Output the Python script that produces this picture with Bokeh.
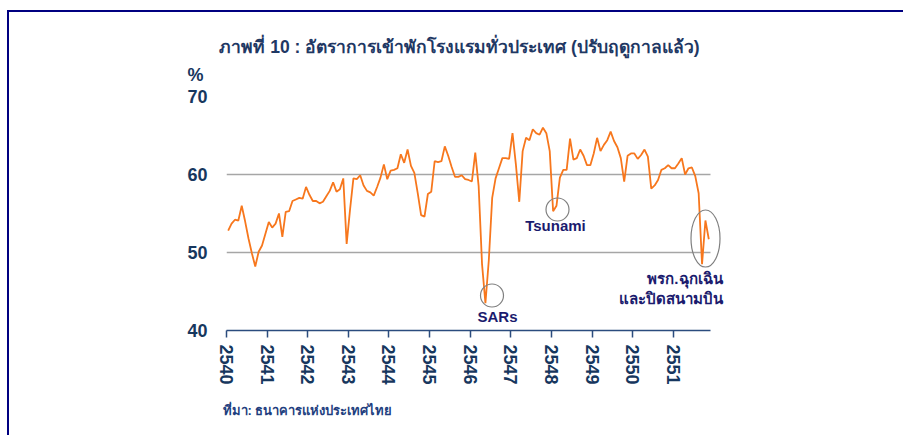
import numpy as np
from bokeh.plotting import figure
from bokeh.models import Range1d, Label, FixedTicker
from bokeh.embed import file_html
from bokeh.resources import INLINE

# ---------------- data ----------------
years = [2540 + k for k in range(12)]
year_labels = [str(y) for y in years]
y_ticks = [40, 50, 60, 70]
grid_ticks = [50, 60, 70]

occupancy = [
    52.8, 53.7, 54.2, 54.1, 56.0, 54.0, 51.8, 49.9, 48.2, 50.1,
    50.9, 52.4, 53.9, 53.2, 53.7, 55.0, 52.0, 55.2, 55.3, 56.6,
    56.8, 57.0, 56.9, 58.4, 57.4, 56.6, 56.6, 56.3, 56.5, 57.2,
    57.9, 59.0, 57.8, 58.1, 59.5, 51.1, 55.5, 59.5, 59.4, 59.9,
    58.6, 57.9, 57.7, 57.3, 58.4, 59.6, 61.3, 59.4, 60.5, 60.6,
    60.8, 62.6, 61.5, 63.2, 61.1, 60.2, 57.6, 54.8, 54.6, 57.5,
    57.8, 61.7, 61.6, 61.7, 63.6, 62.4, 61.0, 59.7, 59.7, 59.9,
    59.4, 59.3, 59.1, 62.8, 58.5, 48.5, 43.5, 49.0, 57.0, 59.5,
    60.8, 62.1, 62.1, 62.0, 65.3, 61.3, 56.5, 63.0, 64.7, 64.4,
    65.8, 65.3, 65.1, 66.0, 65.3, 63.0, 55.3, 56.0, 59.6, 60.6,
    60.6, 64.6, 61.9, 62.1, 63.2, 62.4, 61.2, 61.2, 62.7, 64.7,
    63.0, 63.8, 64.4, 65.5, 64.3, 63.5, 62.1, 59.1, 62.4, 62.7,
    62.7, 62.0, 62.5, 63.2, 62.3, 58.2, 58.6, 59.3, 60.6, 60.8,
    61.2, 60.8, 60.8, 61.4, 62.1, 60.0, 60.8, 60.9, 59.8, 57.6,
    48.5, 54.1, 51.7,
]

title_text = "ภาพที่ 10 : อัตราการเข้าพักโรงแรมทั่วประเทศ (ปรับฤดูกาลแล้ว)"
unit_text = "%"
source_text = "ที่มา: ธนาคารแห่งประเทศไทย"
event_labels = ["SARs", "Tsunami"]
note_lines = ["พรก.ฉุกเฉิน", "และปิดสนามบิน"]

# ---------------- geometry / styles ----------------
W, H = 903, 435
FL, FR, FT, FB = 226, 730, 96, 330          # frame edges on the page
AXIS_END_PX = 710
n = len(occupancy)
xs = [2540 + (i + 0.5) / 12 for i in range(n)]
x_end = 2540 + n / 12
ppy = (AXIS_END_PX - FL) / (x_end - 2540)
x_hi = 2540 + (FR - FL) / ppy
ppu = (FB - FT) / 30.0

def dx(px):
    return 2540 + (px - FL) / ppy

def dy(py):
    return 70 - (py - FT) / ppu

FONT = "Liberation Sans"
NAVY_TXT = "#1F3864"
TICK_TXT = "#17375E"
NOTE_TXT = "#1B1B6E"
FRAME_COL = "#000080"

p = figure(width=W, height=H, output_backend="svg", toolbar_location=None,
           x_range=Range1d(2540, x_hi), y_range=Range1d(40, 70),
           min_border_left=FL, min_border_right=W - FR,
           min_border_top=FT, min_border_bottom=H - FB)
p.outline_line_color = None
p.background_fill_color = "white"
p.border_fill_alpha = 0
# navy page frame: top and left edges of a box starting at (7, 10)
p.styles = {
    "background-color": "white",
    "background-image": f"linear-gradient({FRAME_COL}, {FRAME_COL}), linear-gradient({FRAME_COL}, {FRAME_COL})",
    "background-position": "7px 10px, 7px 10px",
    "background-size": "2000px 2px, 2px 2000px",
    "background-repeat": "no-repeat",
}

# x axis
p.xaxis.ticker = FixedTicker(ticks=years)
p.xaxis.major_label_overrides = {y: s for y, s in zip(years, year_labels)}
p.xaxis.bounds = (2540, x_end)
p.xaxis.major_label_orientation = "vertical"
p.xaxis.axis_line_color = "#2B4C7E"
p.xaxis.axis_line_width = 1.5
p.xaxis.major_tick_line_color = "#2B4C7E"
p.xaxis.major_tick_line_width = 1.5
p.xaxis.major_tick_out = 7
p.xaxis.major_tick_in = 0
p.xaxis.minor_tick_line_color = None
p.xaxis.major_label_standoff = 7
p.xaxis.major_label_text_font = FONT
p.xaxis.major_label_text_font_style = "bold"
p.xaxis.major_label_text_font_size = "18px"
p.xaxis.major_label_text_color = TICK_TXT

# y axis
p.yaxis.ticker = FixedTicker(ticks=y_ticks)
p.yaxis.axis_line_color = None
p.yaxis.major_tick_line_color = None
p.yaxis.minor_tick_line_color = None
p.yaxis.major_tick_out = 0
p.yaxis.major_tick_in = 0
p.yaxis.major_label_standoff = 19
p.yaxis.major_label_text_font = FONT
p.yaxis.major_label_text_font_style = "bold"
p.yaxis.major_label_text_font_size = "18px"
p.yaxis.major_label_text_color = TICK_TXT

p.xgrid.grid_line_color = None
p.ygrid.ticker = FixedTicker(ticks=grid_ticks)
p.ygrid.grid_line_color = "#A6A6A6"
p.ygrid.grid_line_width = 1.3
try:
    p.ygrid.cross_bounds = (2540, x_end)
except Exception:
    pass

# data line
p.line(xs, occupancy, line_color="#F7771D", line_width=1.8)

# event circles / ellipse
p.scatter(x=[dx(491.5), dx(557)], y=[dy(295), dy(209)], size=23, marker="circle",
          fill_color=None, line_color="#808080", line_width=1.2)
p.ellipse(x=[dx(705)], y=[dy(238)], width=[29], height=[57],
          width_units="screen", height_units="screen",
          fill_color=None, line_color="#808080", line_width=1.2)

def lab(text, px, py, size, color, align="center", place="center"):
    l = Label(x=dx(px), y=dy(py), text=text, text_align=align,
              text_baseline="middle", text_font=FONT,
              text_font_style="bold", text_font_size=size,
              text_color=color)
    if place == "center":
        p.add_layout(l)
    else:
        p.add_layout(l, place)

lab(title_text, 459, 46, "17.5px", NAVY_TXT, place="above")
lab(unit_text, 195, 74, "18px", TICK_TXT, place="above")
lab(source_text, 222, 410, "13px", "#1F3F80", align="left", place="below")
lab(event_labels[0], 497, 316, "15px", NOTE_TXT)
lab(event_labels[1], 555, 225, "15px", NOTE_TXT)
lab(note_lines[0], 722, 278, "15px", NOTE_TXT, align="right")
lab(note_lines[1], 722, 298, "15px", NOTE_TXT, align="right")

open("out.html", "w").write(file_html(p, INLINE))
